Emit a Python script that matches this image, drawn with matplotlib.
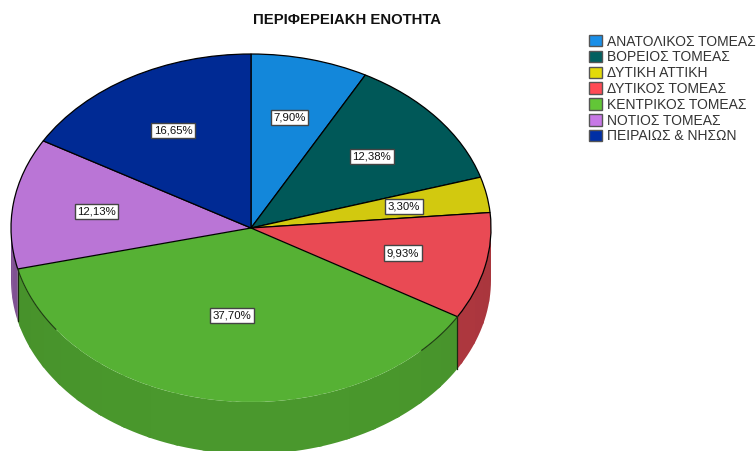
#!/usr/bin/env python3
# -*- coding: utf-8 -*-
import numpy as np
import matplotlib
matplotlib.use('Agg')
import matplotlib.pyplot as plt
from matplotlib.patches import Patch

plt.rcParams['font.family'] = ['Liberation Sans', 'DejaVu Sans']

categories = ['ΑΝΑΤΟΛΙΚΟΣ ΤΟΜΕΑΣ', 'ΒΟΡΕΙΟΣ ΤΟΜΕΑΣ', 'ΔΥΤΙΚΗ ΑΤΤΙΚΗ', 'ΔΥΤΙΚΟΣ ΤΟΜΕΑΣ',
              'ΚΕΝΤΡΙΚΟΣ ΤΟΜΕΑΣ', 'ΝΟΤΙΟΣ ΤΟΜΕΑΣ', 'ΠΕΙΡΑΙΩΣ & ΝΗΣΩΝ']
values = [7.90, 12.38, 3.30, 9.93, 37.70, 12.13, 16.65]
colors = ['#1387DA', '#005858', '#D2C90F', '#E94A54', '#56B134', '#BA75D6', '#002A94']
legend_colors = ['#1A8FE8', '#006060', '#E2DA0A', '#FF4B55', '#62C637', '#C778E6', '#002FA5']
wall_shade = [0.8, 0.8, 0.8, 0.72, 0.81, 0.68, 0.8]

W, H = 756, 451
cx, cy, rx, ry = 251, 228, 240, 174
depth = 52 / ry

fig = plt.figure(figsize=(W / 100, H / 100), dpi=100)
ax = fig.add_axes([0, 0, 1, 1])

wedges, texts, pcts = ax.pie(values, colors=colors, startangle=90, counterclock=False,
                             radius=1, autopct=lambda p: '{:.2f}%'.format(p).replace('.', ','),
                             pctdistance=0.65, normalize=True,
                             wedgeprops={'edgecolor': 'black', 'linewidth': 0.9},
                             textprops={'fontsize': 8.2, 'color': '#111111'})
ax.set_aspect('auto')
ax.set_xlim(-cx / rx, (W - cx) / rx)
ax.set_ylim((cy - H) / ry, cy / ry)

for t in pcts:
    t.set_bbox({'boxstyle': 'square,pad=0.22', 'facecolor': 'white', 'edgecolor': '#444444', 'linewidth': 1})
    t.set_zorder(6)


def arc(a1, a2, n=40):
    a = np.radians(np.linspace(a1, a2, n))
    return np.sin(a), np.cos(a)


# side wall, small flat facets like the 3d export
edges = np.cumsum([0] + values) / sum(values) * 360
for i in range(len(values)):
    a1, a2 = max(edges[i], 90), min(edges[i + 1], 270)
    if a2 <= a1:
        continue
    steps = np.append(np.arange(a1, a2, 7.0), a2)
    rgb = np.array(matplotlib.colors.to_rgb(colors[i]))
    for s1, s2 in zip(steps[:-1], steps[1:]):
        mid = np.radians((s1 + s2) / 2)
        shade = wall_shade[i] + 0.05 * np.sin(mid - np.pi / 2)
        # overlap the next facet a bit so no seam shows
        x, y = arc(s1, min(s2 + 1.0, a2), 6)
        ax.fill(np.r_[x, x[::-1]], np.r_[y, y[::-1] - depth], facecolor=rgb * shade,
                edgecolor='none', zorder=0)

# green top rim has no outline except close to its ends
wedges[4].set_edgecolor('none')
wedges[4].set_zorder(1)
for w in wedges[:4] + wedges[5:]:
    w.set_zorder(2)
for a1, a2 in [(edges[4], edges[4] + 14), (edges[5] - 22, edges[5])]:
    x, y = arc(a1, a2)
    ax.plot(x, y, color='#1c3a10', lw=0.8, zorder=3)

# vertical edges of the visible slices
for a in [edges[4], edges[5]]:
    x, y = arc(a, a, 1)
    ax.plot([x[0], x[0]], [y[0], y[0] - depth], color='#1a2a10', lw=0.9, zorder=3)

# the big slice label sits closer to the middle
pos = pcts[4].get_position()
pcts[4].set_position((pos[0] * 0.82, pos[1] * 0.785))
pos = pcts[0].get_position()
pcts[0].set_position((pos[0], pos[1] + 0.006))

fig.text(347 / W, 1 - 20.5 / H, 'ΠΕΡΙΦΕΡΕΙΑΚΗ ΕΝΟΤΗΤΑ', ha='center', va='center',
         fontsize=10.7, fontweight='bold', color='#111111')

handles = [Patch(facecolor=c, edgecolor='#555555', linewidth=1) for c in legend_colors]
fig.legend(handles, categories, loc='upper left', bbox_to_anchor=(589 / W, 1 - 34.5 / H),
           frameon=False, fontsize=10, labelspacing=0.13, handlelength=0.9, handleheight=0.9,
           handletextpad=0.38, borderpad=0, borderaxespad=0, labelcolor='#333333')

fig.savefig('out.png', dpi=100)
